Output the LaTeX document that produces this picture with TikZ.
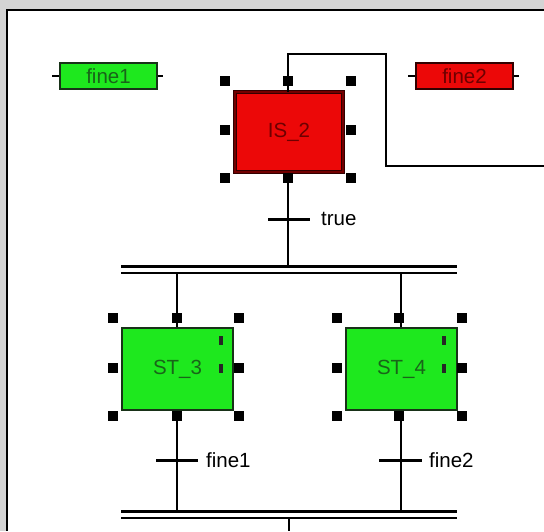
\documentclass[tikz,border=0pt]{standalone}
\usepackage{fontspec}
\setmainfont{Liberation Sans}
\definecolor{bggray}{RGB}{212,212,212}
\definecolor{sfcgreen}{RGB}{30,232,30}
\definecolor{sfcred}{RGB}{236,8,8}
\definecolor{txtgreen}{RGB}{25,100,25}
\definecolor{txtred}{RGB}{110,0,0}
\definecolor{edgegreen}{RGB}{24,50,24}
\definecolor{edgered}{RGB}{50,0,0}
\begin{document}
\begin{tikzpicture}[x=1pt,y=-1pt,
  every node/.style={font=\fontsize{20.5}{24}\selectfont, inner sep=0pt},
  actgreen/.style={draw=edgegreen, fill=sfcgreen, line width=1.5pt, text=txtgreen, minimum width=97pt, minimum height=26pt},
  actred/.style={draw=edgered, fill=sfcred, line width=1.5pt, text=txtred, minimum width=97pt, minimum height=26pt},
  stepgreen/.style={draw=edgegreen, fill=sfcgreen, line width=1.5pt, text=txtgreen, minimum width=111pt, minimum height=82pt},
  initred/.style={draw=edgered, fill=sfcred, line width=1pt, double=red!45!black, double distance=1.5pt, text=txtred, minimum width=108pt, minimum height=80pt},
  handle/.style={fill=black, minimum size=10pt},
  stepmark/.style={fill=black!85, minimum width=4pt, minimum height=9pt},
  wire/.style={line width=1.5pt},
  tick/.style={line width=3pt},
  bartop/.style={line width=3pt},
  barbot/.style={line width=2.5pt},
  lbl/.style={anchor=west, text=black}]

\useasboundingbox (0,0) rectangle (544,531);
\fill[bggray] (0,0) rectangle (544,531);
\fill[white] (7,10) rectangle (544,531);
\draw[line width=2pt] (544,10) -- (7,10) -- (7,531);

% action boxes
\node[actgreen] (fine1box) at (108.5,76) {fine1};
\node[actred] (fine2box) at (464.5,76) {fine2};
\draw[wire] (fine1box.west) -- ++(-7,0);
\draw[wire] (fine1box.east) -- ++(5,0);
\draw[wire] (fine2box.west) -- ++(-7,0);
\draw[wire] (fine2box.east) -- ++(5,0);

% steps
\node[initred] (IS2) at (289,132) {IS\_2};
\node[stepgreen] (ST3) at (177.5,369) {ST\_3};
\node[stepgreen] (ST4) at (401.5,369) {ST\_4};

% marks inside steps
\node[stepmark] (m3a) at (221,340) {};
\node[stepmark] (m3b) at (221,368) {};
\node[stepmark] (m4a) at (444,340) {};
\node[stepmark] (m4b) at (444,368) {};

% coordinates
\coordinate (jA) at (288,54);
\coordinate (jB) at (386,54);
\coordinate (jC) at (386,166);
\coordinate (jD) at (544,166);
\coordinate (t1) at (288,219);
\coordinate (b1L) at (121,266);
\coordinate (b1R) at (457,266);
\coordinate (b1Lb) at (121,273);
\coordinate (b1Rb) at (457,273);
\coordinate (b1c) at (288,266);
\coordinate (b1s3) at (177,273);
\coordinate (b1s4) at (401,273);
\coordinate (t3) at (177,460);
\coordinate (t4) at (401,460);
\coordinate (b2L) at (121,511);
\coordinate (b2R) at (457,511);
\coordinate (b2Lb) at (121,518);
\coordinate (b2Rb) at (457,518);
\coordinate (b2s3) at (177,511);
\coordinate (b2s4) at (401,511);
\coordinate (b2c) at (289,518);
\coordinate (bend) at (289,531);

% connectors
\draw[wire] (IS2.north -| jA) -- (jA) -- (jB) -- (jC) -- (jD);
\draw[wire] (IS2.south -| t1) -- (b1c);
\draw[tick] ([xshift=-20pt]t1) -- ([xshift=22pt]t1);
\node[lbl] (truelbl) at ([xshift=33pt]t1) {true};

\draw[bartop] (b1L) -- (b1R);
\draw[barbot] (b1Lb) -- (b1Rb);
\draw[wire] (b1s3) -- (ST3.north -| b1s3);
\draw[wire] (b1s4) -- (ST4.north -| b1s4);

\draw[wire] (ST3.south -| t3) -- (b2s3);
\draw[wire] (ST4.south -| t4) -- (b2s4);
\draw[tick] ([xshift=-21pt]t3) -- ([xshift=21pt]t3);
\draw[tick] ([xshift=-22pt]t4) -- ([xshift=21pt]t4);
\node[lbl] (lblf1) at ([xshift=29pt]t3) {fine1};
\node[lbl] (lblf2) at ([xshift=28pt]t4) {fine2};

\draw[bartop] (b2L) -- (b2R);
\draw[barbot] (b2Lb) -- (b2Rb);
\draw[wire] (b2c) -- (bend);

% selection handles
\foreach \hx/\hy [count=\i] in {225/81,288/81,351/81,225/130,351/130,225/178,288/178,351/178}
  \node[handle] (hIS\i) at (\hx,\hy) {};
\foreach \hx/\hy [count=\i] in {113/318,177/318,239/318,113/368,239/368,113/416,177/416,239/416}
  \node[handle] (hST3\i) at (\hx,\hy) {};
\foreach \hx/\hy [count=\i] in {337/318,399/318,462/318,337/368,462/368,337/416,399/416,462/416}
  \node[handle] (hST4\i) at (\hx,\hy) {};
\end{tikzpicture}
\end{document}
